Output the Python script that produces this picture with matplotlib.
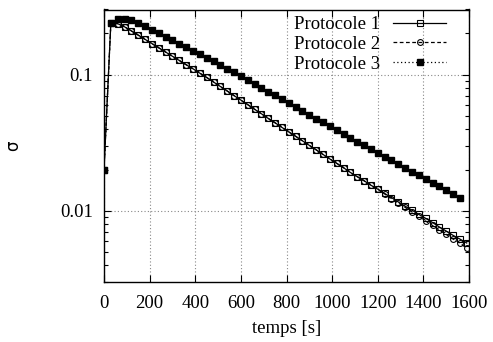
import numpy as np
import matplotlib
matplotlib.use("Agg")
import matplotlib.pyplot as plt
from matplotlib.ticker import LogLocator, NullFormatter

plt.rcParams['font.family'] = ['Liberation Serif', 'DejaVu Serif']
plt.rcParams['font.size'] = 13.5

# temps [s]
t12 = list(range(0, 1591, 30))
t3 = list(range(0, 1561, 30))

proto1 = [0.02, 0.238, 0.236, 0.2239, 0.2089, 0.1945, 0.1811, 0.1687, 0.1570, 0.1462,
          0.1361, 0.1268, 0.1180, 0.1102, 0.1023, 0.0951, 0.0881, 0.0817, 0.0757, 0.0700,
          0.0649, 0.0601, 0.0556, 0.0515, 0.0476, 0.0442, 0.0409, 0.0379, 0.0352, 0.0326,
          0.0302, 0.0280, 0.0259, 0.0240, 0.0223, 0.0207, 0.0191, 0.0178, 0.0166, 0.0154,
          0.0144, 0.0134, 0.0125, 0.0116, 0.0108, 0.0101, 0.0094, 0.0088, 0.0082, 0.0076,
          0.0071, 0.0066, 0.0062, 0.0058]
proto2 = [0.02, 0.238, 0.236, 0.2239, 0.2089, 0.1945, 0.1811, 0.1687, 0.1570, 0.1462,
          0.1361, 0.1268, 0.1180, 0.1102, 0.1023, 0.0951, 0.0881, 0.0817, 0.0757, 0.0700,
          0.0649, 0.0601, 0.0556, 0.0515, 0.0476, 0.0442, 0.0409, 0.0379, 0.0352, 0.0326,
          0.0302, 0.0280, 0.0259, 0.0240, 0.0223, 0.0207, 0.0191, 0.0178, 0.0166, 0.0154,
          0.0144, 0.0133, 0.0123, 0.0114, 0.0106, 0.0098, 0.0091, 0.0084, 0.0078, 0.0072,
          0.0067, 0.0062, 0.0058, 0.0053]
proto3 = [0.02, 0.237, 0.254, 0.255, 0.250,
          0.2388, 0.2265, 0.2138, 0.2014, 0.1897, 0.1786, 0.1683, 0.1585, 0.1493, 0.1406,
          0.1324, 0.1247, 0.1172, 0.1102, 0.1035, 0.0970, 0.0910, 0.0853, 0.0800, 0.0750,
          0.0703, 0.0659, 0.0617, 0.0578, 0.0542, 0.0508, 0.0475, 0.0446, 0.0417, 0.0391,
          0.0366, 0.0344, 0.0322, 0.0302, 0.0283, 0.0266, 0.0249, 0.0234, 0.0220, 0.0207,
          0.0194, 0.0182, 0.0171, 0.0161, 0.0151, 0.0142, 0.0133, 0.0125]

xticks = [0, 200, 400, 600, 800, 1000, 1200, 1400, 1600]

fig = plt.figure(figsize=(4.93, 3.42), dpi=100)
ax = fig.add_axes([104/493, 1 - 282/342, (469-104)/493, (282-9.5)/342])

ax.plot(t12, proto1, color='black', lw=0.9, ls='-', marker='s', ms=4.5,
        mfc='none', mec='black', mew=0.8, label='Protocole 1')
ax.plot(t12, proto2, color='black', lw=0.9, ls=(0, (3, 2)), marker='o', ms=4.2,
        mfc='none', mec='black', mew=0.8, label='Protocole 2')
ax.plot(t3, proto3, color='black', lw=0.9, ls=(0, (1, 2)), marker='s', ms=4.8,
        mfc='black', mec='black', label='Protocole 3')

ax.set_yscale('log')
ax.set_xlim(0, 1600)
ax.set_ylim(0.003, 0.3)
ax.set_xticks(xticks)
ax.set_yticks([0.01, 0.1])
ax.set_yticklabels(['0.01', '0.1'])
ax.yaxis.set_minor_locator(LogLocator(base=10, subs=np.arange(2, 10)))
ax.yaxis.set_minor_formatter(NullFormatter())

ax.grid(True, which='major', color='#888888', ls=(0, (1, 2)), lw=0.8)
ax.tick_params(which='both', direction='in', top=True, right=True, width=0.8)
ax.tick_params(which='major', length=5)
ax.tick_params(which='minor', length=3)
ax.tick_params(axis='x', pad=9)
ax.tick_params(axis='y', pad=8)
for s in ax.spines.values():
    s.set_linewidth(1.0)

ax.set_xlabel('temps [s]')
ax.xaxis.set_label_coords(0.5, -0.14)
ax.set_ylabel('σ', family=['DejaVu Sans'], fontsize=12)
ax.yaxis.set_label_coords(-0.225, 0.5)

ax.legend(loc='upper right', bbox_to_anchor=(0.952, 0.997), frameon=False,
          markerfirst=False, handlelength=2.8, handletextpad=0.7,
          labelspacing=0.15, borderaxespad=0, borderpad=0.3, numpoints=1,
          fontsize=13.5)

fig.savefig('out.png', dpi=100)
